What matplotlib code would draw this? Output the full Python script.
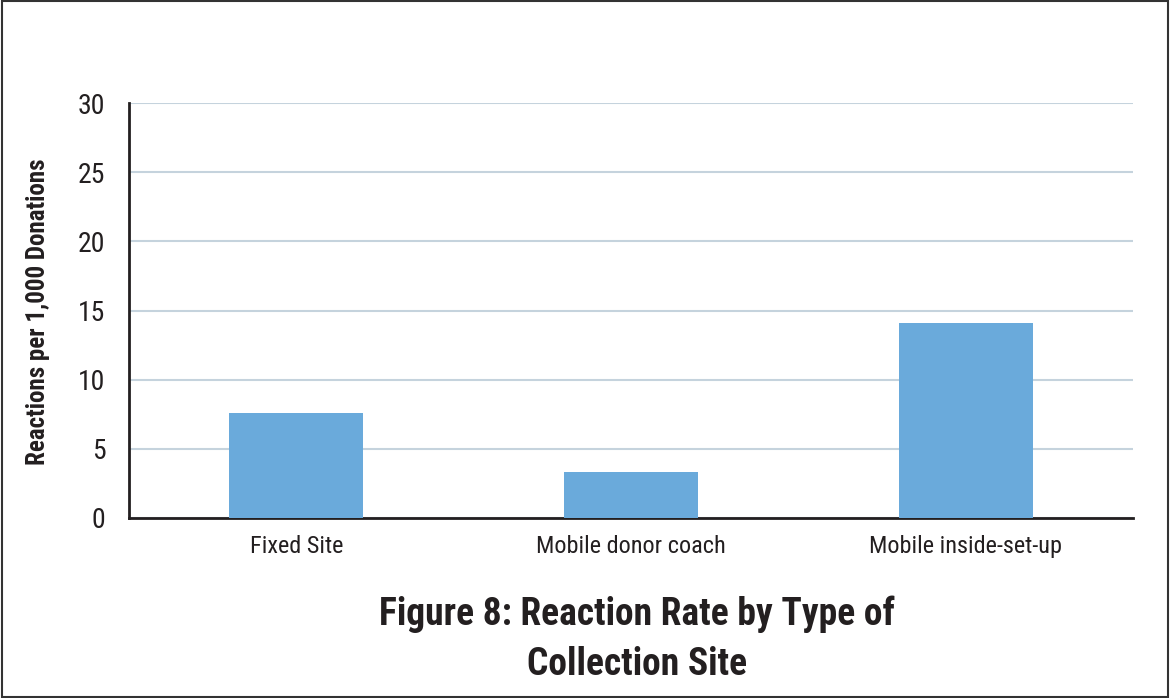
import matplotlib
matplotlib.use("Agg")
import matplotlib.pyplot as plt

categories = ["Fixed Site", "Mobile donor coach", "Mobile inside-set-up"]
values = [7.6, 3.3, 14.1]
yticks = [0, 5, 10, 15, 20, 25, 30]
ylabel = "Reactions per 1,000 Donations"
title = "Figure 8: Reaction Rate by Type of\nCollection Site"

plt.rcParams['font.family'] = ['Roboto Condensed', 'DejaVu Sans']

fig = plt.figure(figsize=(11.7, 6.98), dpi=100)
ax = fig.add_axes([129/1170, 1 - 518/698, (1133-129)/1170, (518-103)/698])

x = list(range(len(categories)))
ax.bar(x, values, width=0.4, color="#6aaadb", zorder=3)
ax.set_xlim(-0.5, 2.5)
ax.set_ylim(0, 30)
ax.set_yticks(yticks)
ax.set_yticklabels([str(t) for t in yticks], fontsize=20, color="#231f20")
ax.set_xticks(x)
ax.set_xticklabels(categories, fontsize=17.5, color="#231f20")
ax.tick_params(axis='both', length=0)
ax.tick_params(axis='y', pad=17)
ax.tick_params(axis='x', pad=12)
ax.grid(axis='y', color="#c5d3dd", linewidth=1.5, zorder=0)
for s in ["top", "right"]:
    ax.spines[s].set_visible(False)
ax.spines["left"].set_linewidth(2)
ax.spines["bottom"].set_linewidth(2)
ax.spines["left"].set_color("#231f20")
ax.spines["bottom"].set_color("#231f20")

fig.text(38/1170, 1 - 312/698, ylabel, rotation=90, ha='center', va='center',
         fontsize=18, fontweight='bold', color="#231f20")
fig.text(637/1170, 1 - 639/698, title, ha='center', va='center',
         fontsize=27, fontweight='bold', color="#231f20", linespacing=1.45)

fig.patches.append(plt.Rectangle((0.002, 0.002), 0.996, 0.996, transform=fig.transFigure,
                                 fill=False, edgecolor="#333333", linewidth=1.5))
fig.savefig("out.png", dpi=100)
